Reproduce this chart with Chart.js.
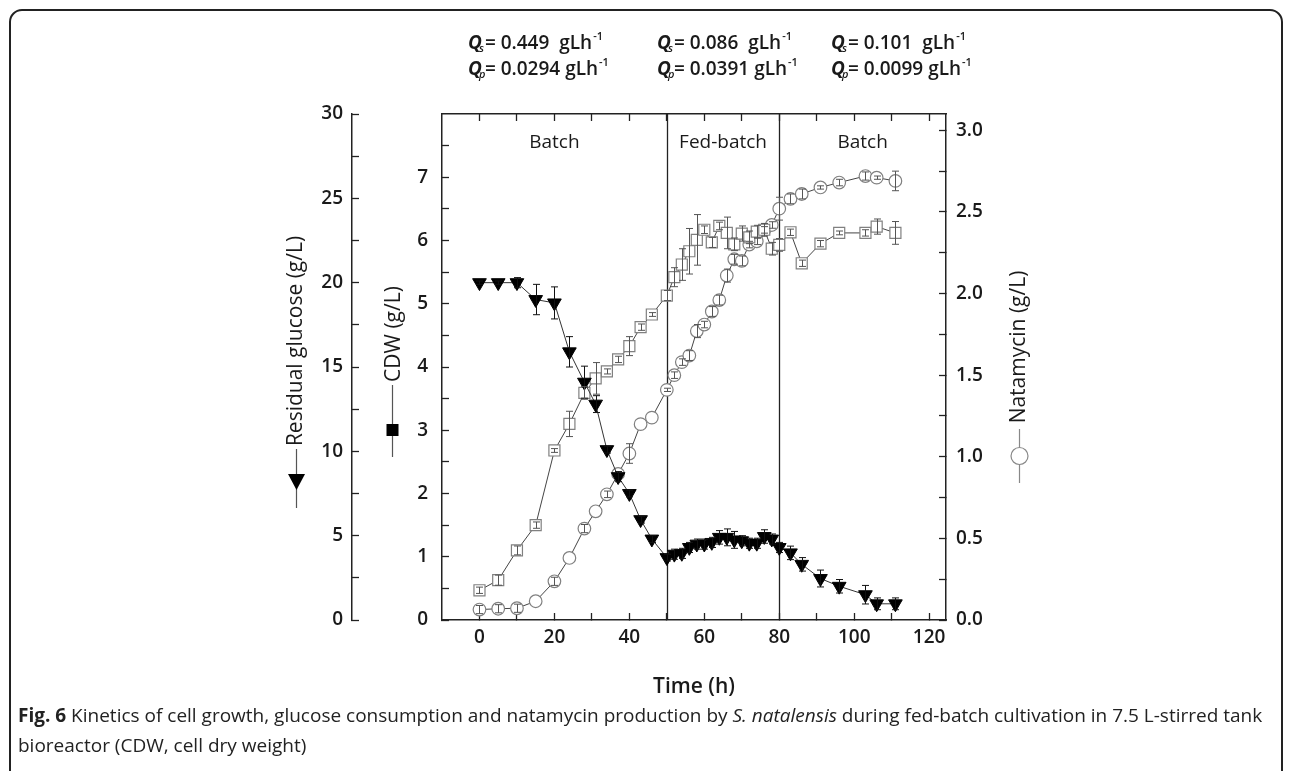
<!DOCTYPE html>
<html>
<head>
<meta charset="utf-8">
<script src="https://cdn.jsdelivr.net/npm/chart.js@4.4.1/dist/chart.umd.min.js"></script>
<style>
  html, body { margin: 0; padding: 0; background: #fff; }
  body { width: 1292px; height: 771px; position: relative; overflow: hidden;
    font-family: "Open Sans", sans-serif; color: #1a1a1a; }
  .box { position: absolute; left: 9px; top: 9px; width: 1274px; height: 820px;
    border: 2px solid #222; border-radius: 13px; box-sizing: border-box; }
  #chart { position: absolute; left: 0; top: 0; }
  .q { position: absolute; font-size: 19px; font-weight: 600; line-height: 1; white-space: nowrap; }
  .q .Q { position: relative; font-style: italic; font-weight: 700; margin-right: 3px; }
  .q .Q span { position: absolute; left: 11px; top: 13px; font-size: 11px; font-style: italic; font-weight: 600; }
  .q sup { font-size: 11px; position: relative; top: -2px; margin-left: 1px; }
  .caption { position: absolute; left: 18px; top: 700px; font-size: 19px; line-height: 30px; color: #222; }
</style>
</head>
<body>
<div class="box"></div>
<canvas id="chart" width="1292" height="771"></canvas>

<div class="q" style="left:468px;top:32px"><span class="Q">Q<span>s</span></span>= 0.449&nbsp; gLh<sup>-1</sup></div>
<div class="q" style="left:468px;top:58px"><span class="Q">Q<span>p</span></span>= 0.0294 gLh<sup>-1</sup></div>
<div class="q" style="left:657px;top:32px"><span class="Q">Q<span>s</span></span>= 0.086&nbsp; gLh<sup>-1</sup></div>
<div class="q" style="left:657px;top:58px"><span class="Q">Q<span>p</span></span>= 0.0391 gLh<sup>-1</sup></div>
<div class="q" style="left:831px;top:32px"><span class="Q">Q<span>s</span></span>= 0.101&nbsp; gLh<sup>-1</sup></div>
<div class="q" style="left:831px;top:58px"><span class="Q">Q<span>p</span></span>= 0.0099 gLh<sup>-1</sup></div>

<div class="caption"><b>Fig. 6</b> Kinetics of cell growth, glucose consumption and natamycin production by <i>S. natalensis</i> during fed-batch cultivation in 7.5 L-stirred tank<br>bioreactor (CDW, cell dry weight)</div>

<script>
// sampling times (h)
const hours = [0, 5, 10, 15, 20, 24, 28, 31, 34, 37, 40, 43, 46,
  50, 52, 54, 56, 58, 60, 62, 64, 66, 68, 70, 72, 74, 76, 78, 80,
  83, 86, 91, 96, 103, 106, 111];

// residual glucose (g/L)
const glucose = [20, 20, 20, 19, 18.8, 15.9, 14.1, 12.8, 10.1, 8.5, 7.5, 5.95, 4.8,
  3.7, 3.9, 3.95, 4.3, 4.5, 4.5, 4.6, 4.9, 4.9, 4.75, 4.7, 4.55, 4.55, 4.95, 4.8, 4.3,
  3.98, 3.3, 2.46, 2.0, 1.5, 0.96, 0.96];
const glucoseSd = [0.1, 0.1, 0.3, 0.9, 0.95, 0.9, 0.95, 0.5, 0.2, 0.3, 0.2, 0.2, 0.2,
  0.2, 0.3, 0.3, 0.3, 0.3, 0.3, 0.3, 0.4, 0.5, 0.5, 0.3, 0.3, 0.3, 0.4, 0.3, 0.3,
  0.4, 0.4, 0.5, 0.4, 0.55, 0.35, 0.35];

// cell dry weight (g/L)
const cdw = [0.47, 0.63, 1.10, 1.50, 2.68, 3.10, 3.59, 3.82, 3.93, 4.12, 4.33, 4.63, 4.83,
  5.13, 5.42, 5.62, 5.83, 6.01, 6.17, 5.97, 6.23, 6.12, 5.94, 6.11, 6.05, 6.14, 6.17, 5.87, 5.93,
  6.13, 5.64, 5.95, 6.12, 6.12, 6.22, 6.12];
const cdwSd = [0.05, 0.08, 0.07, 0.05, 0.03, 0.2, 0.1, 0.25, 0.04, 0.05, 0.15, 0.05, 0.03,
  0.08, 0.15, 0.25, 0.36, 0.4, 0.06, 0.08, 0.06, 0.25, 0.1, 0.12, 0.1, 0.1, 0.1, 0.1, 0.1,
  0.05, 0.05, 0.05, 0.03, 0.05, 0.12, 0.18];

// natamycin (g/L)
const natamycin = [0.064, 0.069, 0.072, 0.115, 0.237, 0.38, 0.56, 0.666, 0.77, 0.895, 1.02, 1.20, 1.24,
  1.41, 1.50, 1.58, 1.62, 1.77, 1.81, 1.89, 1.96, 2.11, 2.21, 2.20, 2.30, 2.32, 2.39, 2.42, 2.52,
  2.58, 2.61, 2.65, 2.68, 2.72, 2.71, 2.69];
const natamycinSd = [0.025, 0.025, 0.025, 0, 0.025, 0, 0.025, 0, 0.02, 0, 0.06, 0, 0,
  0.01, 0.02, 0.02, 0.03, 0.04, 0.02, 0.03, 0.03, 0.04, 0.03, 0.03, 0.02, 0.02, 0.02, 0.02, 0.07,
  0.03, 0.03, 0.01, 0.02, 0.025, 0.01, 0.06];

// feeding started at 50 h and stopped at 80 h
const phaseBounds = [50, 80];
const phaseNames = ['Batch', 'Fed-batch', 'Batch'];

// axis ticks (minor ones carry no label)
const xTicks = [0, 10, 20, 30, 40, 50, 60, 70, 80, 90, 100, 110, 120];
const glucoseTicks = [0, 2.5, 5, 7.5, 10, 12.5, 15, 17.5, 20, 22.5, 25, 27.5, 30];
const cdwTicks = [0, 0.5, 1, 1.5, 2, 2.5, 3, 3.5, 4, 4.5, 5, 5.5, 6, 6.5, 7, 7.5];
const natamycinTicks = [0, 0.25, 0.5, 0.75, 1, 1.25, 1.5, 1.75, 2, 2.25, 2.5, 2.75, 3];

const ink = '#1a1a1a';
const fam = "'Open Sans', sans-serif";
const tickFont = { family: fam, size: 19, weight: '600' };
const X_MIN = -10, X_MAX = 124.5;

const pts = (ys) => hours.map((h, i) => ({ x: h, y: ys[i] }));
const fixed = (vals) => (axis) => { axis.ticks = vals.map((v) => ({ value: v })); };
const inward = { drawOnChartArea: false, drawTicks: true, tickLength: -7, tickColor: '#222', tickWidth: 1.3 };
const edge = { display: true, color: '#222', width: 1.5 };

const errBars = { 0: glucoseSd, 1: cdwSd, 2: natamycinSd };

// ± error bars with small caps, drawn on top of the markers
const errorBarPlugin = {
  id: 'errorBars',
  afterDatasetsDraw(chart) {
    const ctx = chart.ctx;
    ctx.save();
    chart.data.datasets.forEach((ds, di) => {
      const sd = errBars[di];
      const meta = chart.getDatasetMeta(di);
      const ys = chart.scales[ds.yAxisID];
      ctx.strokeStyle = di === 0 ? '#111' : '#555';
      ctx.lineWidth = 1;
      meta.data.forEach((pt, i) => {
        if (!sd[i]) return;
        const v = ds.data[i].y;
        const top = ys.getPixelForValue(v + sd[i]);
        const bot = ys.getPixelForValue(v - sd[i]);
        const x = Math.round(pt.x) + 0.5;
        ctx.beginPath();
        ctx.moveTo(x, top); ctx.lineTo(x, bot);
        ctx.moveTo(x - 3.5, top); ctx.lineTo(x + 3.5, top);
        ctx.moveTo(x - 3.5, bot); ctx.lineTo(x + 3.5, bot);
        ctx.stroke();
      });
    });
    ctx.restore();
  },
};

// phase boundaries and phase names
const phasePlugin = {
  id: 'phases',
  beforeDatasetsDraw(chart) {
    const { ctx, chartArea: a } = chart;
    const xs = chart.scales.x;
    ctx.save();
    ctx.strokeStyle = '#222';
    ctx.lineWidth = 1.3;
    phaseBounds.forEach((t) => {
      const px = Math.round(xs.getPixelForValue(t)) + 0.5;
      ctx.beginPath(); ctx.moveTo(px, a.top); ctx.lineTo(px, a.bottom); ctx.stroke();
    });
    const edges = [xs.min, ...phaseBounds, xs.max];
    ctx.fillStyle = ink;
    ctx.font = `500 19px ${fam}`;
    ctx.textAlign = 'center';
    ctx.textBaseline = 'middle';
    phaseNames.forEach((name, i) => {
      const mid = (edges[i] + edges[i + 1]) / 2;
      ctx.fillText(name, xs.getPixelForValue(mid), a.top + 29);
    });
    ctx.restore();
  },
};

// axis titles, each with its series symbol
const titlePlugin = {
  id: 'titles',
  afterDraw(chart) {
    const { ctx, chartArea: a } = chart;
    ctx.save();
    ctx.fillStyle = ink;
    ctx.font = `500 21px ${fam}`;
    ctx.textAlign = 'center';
    ctx.textBaseline = 'middle';
    const vtext = (txt, x, y) => {
      ctx.save(); ctx.translate(x, y); ctx.rotate(-Math.PI / 2); ctx.fillText(txt, 0, 0); ctx.restore();
    };
    const stem = (x, y0, y1, color) => {
      ctx.strokeStyle = color; ctx.lineWidth = 1.2;
      ctx.beginPath(); ctx.moveTo(x + 0.5, y0); ctx.lineTo(x + 0.5, y1); ctx.stroke();
    };

    // residual glucose
    vtext('Residual glucose (g/L)', 296, 341);
    stem(296, 449, 508, '#555');
    ctx.fillStyle = '#000';
    ctx.beginPath();
    ctx.moveTo(288, 474); ctx.lineTo(305, 474); ctx.lineTo(296.5, 490); ctx.closePath(); ctx.fill();

    // CDW
    ctx.fillStyle = ink;
    vtext('CDW (g/L)', 394, 334);
    stem(392, 385, 457, '#555');
    ctx.fillStyle = '#000';
    ctx.fillRect(386.5, 424, 12, 12);

    // natamycin
    ctx.fillStyle = ink;
    vtext('Natamycin (g/L)', 1019, 347);
    stem(1019, 429, 483, '#888');
    ctx.fillStyle = '#fff';
    ctx.strokeStyle = '#888';
    ctx.lineWidth = 1.2;
    ctx.beginPath(); ctx.arc(1019.5, 456, 8.5, 0, Math.PI * 2); ctx.fill(); ctx.stroke();

    // time axis
    ctx.fillStyle = ink;
    ctx.font = `600 21px ${fam}`;
    ctx.fillText('Time (h)', (a.left + a.right) / 2, 687);
    ctx.restore();
  },
};

new Chart(document.getElementById('chart'), {
  type: 'line',
  data: {
    datasets: [
      { label: 'Residual glucose', data: pts(glucose), xAxisID: 'x', yAxisID: 'yGlu',
        borderColor: '#333', borderWidth: 1, pointStyle: 'triangle', pointRotation: 180,
        pointRadius: 7.9, pointBackgroundColor: '#000', pointBorderColor: '#000', pointBorderWidth: 1 },
      { label: 'CDW', data: pts(cdw), xAxisID: 'x', yAxisID: 'yCdw',
        borderColor: '#444', borderWidth: 1, pointStyle: 'rect',
        pointRadius: 7.8, pointBackgroundColor: '#fff', pointBorderColor: '#808080', pointBorderWidth: 1.2 },
      { label: 'Natamycin', data: pts(natamycin), xAxisID: 'x', yAxisID: 'yNat',
        borderColor: '#444', borderWidth: 1, pointStyle: 'circle',
        pointRadius: 6.3, pointBackgroundColor: '#fff', pointBorderColor: '#808080', pointBorderWidth: 1.2 },
    ],
  },
  options: {
    responsive: false, animation: false, events: [],
    layout: { padding: { left: 260, right: 236, top: 114, bottom: 51 } },
    plugins: { legend: { display: false }, tooltip: { enabled: false } },
    scales: {
      x: { type: 'linear', position: 'bottom', min: X_MIN, max: X_MAX,
        afterBuildTicks: fixed(xTicks),
        ticks: { callback: (v) => (v % 20 === 0 ? v : ''), font: tickFont, color: ink, padding: 13, maxRotation: 0, autoSkip: false },
        grid: inward, border: edge, afterFit: (s) => { s.height = 100; } },
      xTop: { type: 'linear', position: 'top', min: X_MIN, max: X_MAX,
        afterBuildTicks: fixed(xTicks),
        ticks: { display: false }, grid: inward, border: edge, afterFit: (s) => { s.height = 0; } },
      yGlu: { type: 'linear', position: 'left', weight: 2, min: 0, max: 30,
        afterBuildTicks: fixed(glucoseTicks),
        ticks: { callback: (v) => (v % 5 === 0 ? v : ''), font: tickFont, color: ink, padding: 16, autoSkip: false },
        grid: inward, border: edge, afterFit: (s) => { s.width = 92; } },
      yCdw: { type: 'linear', position: 'left', weight: 1, min: 0, max: 8,
        afterBuildTicks: fixed(cdwTicks),
        ticks: { callback: (v) => (Number.isInteger(v) ? v : ''), font: tickFont, color: ink, padding: 21, autoSkip: false },
        grid: inward, border: edge, afterFit: (s) => { s.width = 90; } },
      yNat: { type: 'linear', position: 'right', min: 0, max: 3.1,
        afterBuildTicks: fixed(natamycinTicks),
        ticks: { callback: (v) => (Number.isInteger(v * 2) ? v.toFixed(1) : ''), font: tickFont, color: ink, padding: 17, autoSkip: false },
        grid: inward, border: edge, afterFit: (s) => { s.width = 110; } },
    },
  },
  plugins: [phasePlugin, errorBarPlugin, titlePlugin],
});
</script>
</body>
</html>
